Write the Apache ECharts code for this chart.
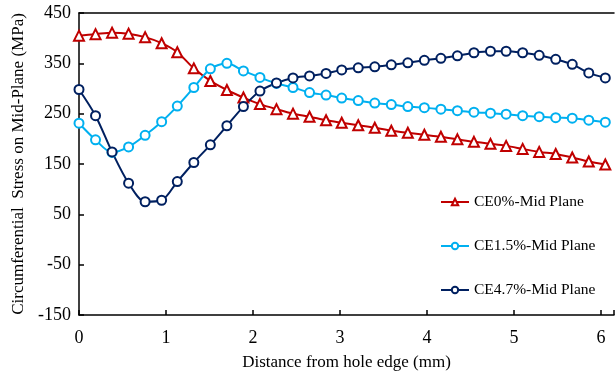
<!DOCTYPE html>
<html>
<head>
<meta charset="utf-8">
<script src="https://cdn.jsdelivr.net/npm/echarts@6/dist/echarts.min.js"></script>
<style>
  html, body { margin: 0; padding: 0; background: #fff; }
  #chart { width: 615px; height: 373px; }
</style>
</head>
<body>
<div id="chart"></div>
<script>
// distance from hole edge (mm)
const distance = [0, 0.19, 0.38, 0.57, 0.76, 0.95, 1.13, 1.32, 1.51, 1.70, 1.89, 2.08, 2.27, 2.46, 2.65,
  2.84, 3.02, 3.21, 3.40, 3.59, 3.78, 3.97, 4.16, 4.35, 4.54, 4.73, 4.91, 5.10, 5.29, 5.48, 5.67, 5.86, 6.05];

const ce0 = [405, 408, 411, 409, 402, 390, 372, 340, 315, 297, 282, 269, 259, 250, 244,
  237, 232, 227, 222, 216, 212, 208, 204, 199, 194, 190, 186, 180, 174, 170, 163, 155, 149];

const ce15 = [231, 198, 173, 184, 207, 234, 265, 302, 339, 350, 335, 322, 310, 302, 292,
  287, 281, 276, 271, 268, 264, 262, 259, 256, 253, 251, 249, 246, 244, 242, 241, 237, 233];

const ce47 = [298, 246, 174, 112, 75, 78, 115, 153, 188, 226, 264, 295, 311, 321, 325,
  330, 337, 341, 343, 347, 351, 356, 360, 365, 371, 374, 374, 371, 366, 358, 348, 331, 321];

const names = ["CE0%-Mid Plane", "CE1.5%-Mid Plane", "CE4.7%-Mid Plane"];
const colors = ["#C00000", "#00B0F0", "#002060"];
const symbols = ["triangle", "circle", "circle"];
const sizes = [10, 9, 9];

const font = "'Liberation Serif', 'Times New Roman', serif";

const pairs = (ys) => ys.map((y, i) => [distance[i], y]);

const myChart = echarts.init(document.getElementById("chart"));
myChart.setOption({
  animation: false,
  color: colors,
  grid: { left: 79, top: 13, right: 1, bottom: 58, outerBoundsMode: "none", containLabel: false },
  legend: {
    orient: "vertical",
    left: 440,
    top: 194,
    padding: 0,
    itemWidth: 28,
    itemHeight: 8,
    itemGap: 28,
    textStyle: { fontFamily: font, fontSize: 15.5, color: "#000" },
    data: names,
  },
  xAxis: [
    {
      type: "value",
      min: 0,
      max: 6.15,
      interval: 1,
      name: "Distance from hole edge (mm)",
      nameLocation: "middle",
      nameGap: 39,
      nameTextStyle: { fontFamily: font, fontSize: 17, color: "#000" },
      axisLine: { onZero: false, lineStyle: { color: "#000", width: 1.5 } },
      axisTick: { inside: true, length: 5, lineStyle: { color: "#000", width: 1.5 } },
      axisLabel: {
        fontFamily: font, fontSize: 18, color: "#000", margin: 14,
        formatter: (v) => (Number.isInteger(v) ? String(v) : ""),
      },
      splitLine: { show: false },
    },
    {
      type: "value",
      position: "top",
      min: 0,
      max: 6.15,
      axisLine: { show: true, onZero: false, lineStyle: { color: "#000", width: 1.5 } },
      axisTick: { show: false },
      axisLabel: { show: false },
      splitLine: { show: false },
    },
  ],
  yAxis: {
    type: "value",
    min: -150,
    max: 450,
    interval: 100,
    name: "Circumferential  Stress on Mid-Plane (MPa)",
    nameLocation: "middle",
    nameGap: 48,
    nameTextStyle: { fontFamily: font, fontSize: 17, color: "#000" },
    axisLine: { show: true, onZero: false, lineStyle: { color: "#000", width: 1.5 } },
    axisTick: { show: true, inside: true, length: 5, lineStyle: { color: "#000", width: 1.5 } },
    axisLabel: { fontFamily: font, fontSize: 18, color: "#000", margin: 8 },
    splitLine: { show: false },
  },
  series: [ce0, ce15, ce47].map((ys, k) => ({
    name: names[k],
    type: "line",
    smooth: 0.3,
    symbol: symbols[k],
    symbolSize: sizes[k],
    data: pairs(ys),
    lineStyle: { width: 2, color: colors[k] },
    itemStyle: { color: "#fff", borderColor: colors[k], borderWidth: 2 },
  })),
});
</script>
</body>
</html>
